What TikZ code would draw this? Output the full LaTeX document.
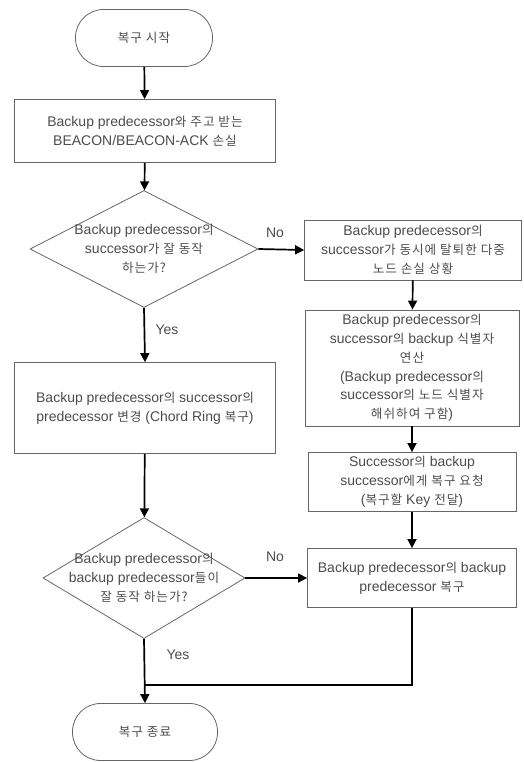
\documentclass[tikz,border=0pt]{standalone}
\usepackage{fontspec}
\setmainfont{Liberation Sans}
\newfontfamily\krfont{Noto Sans CJK KR}[Scale=0.9,LetterSpace=8]
\newcommand\K[1]{{\krfont #1}}
\usetikzlibrary{shapes.geometric,arrows.meta}
\tikzset{
  txt/.style={font=\fontsize{14}{18.8}\selectfont, text=black!70, align=center},
  proc/.style={txt, draw=black!60, line width=0.8pt, rectangle, inner sep=0pt},
  term/.style={txt, draw=black!60, line width=0.8pt, rectangle, rounded corners=28pt, inner sep=0pt},
  dec/.style={draw=black!60, line width=0.8pt, diamond, inner sep=0pt},
  flow/.style={line width=1.7pt, black, -{Triangle[width=9pt,length=9pt]}},
  lbl/.style={font=\fontsize{14}{16}\selectfont, text=black!70}
}
\begin{document}
\begin{tikzpicture}[x=1pt,y=-1pt]
\useasboundingbox (0,0) rectangle (524,762);
\node[term, minimum width=137pt, minimum height=57pt] (start) at (144,38) {\K{복구 시작}};
\node[proc, minimum width=261pt, minimum height=63pt] (b1) at (145,131) {Backup predecessor\K{와 주고 받는}\\BEACON/BEACON-ACK \K{손실}};
\node[dec, minimum width=228pt, minimum height=117pt] (d1) at (144,249) {};
\node[txt] (d1t) at (144,249) {Backup predecessor\K{의}\\successor\K{가 잘 동작}\\\K{하는가?}};
\node[proc, minimum width=217pt, minimum height=60pt] (r1) at (413,250) {Backup predecessor\K{의}\\successor\K{가 동시에 탈퇴한 다중}\\\K{노드 손실 상황}};
\node[proc, minimum width=214pt, minimum height=116pt] (r2) at (412,368) {Backup predecessor\K{의}\\successor\K{의} backup \K{식별자}\\\K{연산}\\(Backup predecessor\K{의}\\successor\K{의 노드 식별자}\\\K{해쉬하여 구함})};
\node[proc, minimum width=208pt, minimum height=59pt] (r3) at (412,482) {Successor\K{의} backup\\successor\K{에게 복구 요청}\\(\K{복구할} Key \K{전달})};
\node[proc, minimum width=209pt, minimum height=59pt] (r4) at (412,578) {Backup predecessor\K{의} backup\\predecessor \K{복구}};
\node[proc, minimum width=261pt, minimum height=91pt] (b2) at (145,408) {Backup predecessor\K{의} successor\K{의}\\predecessor \K{변경} (Chord Ring \K{복구})};
\node[dec, minimum width=202pt, minimum height=121pt] (d2) at (144,578) {};
\node[txt] (d2t) at (144,578) {Backup predecessor\K{의}\\backup predecessor\K{들이}\\\K{잘 동작 하는가?}};
\node[term, minimum width=145pt, minimum height=57pt] (end) at (145,732) {\K{복구 종료}};
\coordinate (j) at (412,685);
\coordinate (jl) at (144,685);
\draw[flow] (start) -- (b1);
\draw[flow] (b1) -- (d1);
\draw[flow] (d1.east) -- (r1.west);
\draw[flow] (r1) -- (r2);
\draw[flow] (r2) -- (r3);
\draw[flow] (r3) -- (r4);
\draw[flow] (d1.south) -- (b2.north);
\draw[flow] (b2) -- (d2);
\draw[flow] (d2.east) -- (r4.west);
\draw[flow] (d2.south) -- (end.north);
\draw[line width=1.7pt] (r4.south) -- (j) -- (jl);
\node[lbl] (no1) at (275,233) {No};
\node[lbl] (yes1) at (167,330) {Yes};
\node[lbl] (no2) at (275,557) {No};
\node[lbl] (yes2) at (178,655) {Yes};
\end{tikzpicture}
\end{document}
